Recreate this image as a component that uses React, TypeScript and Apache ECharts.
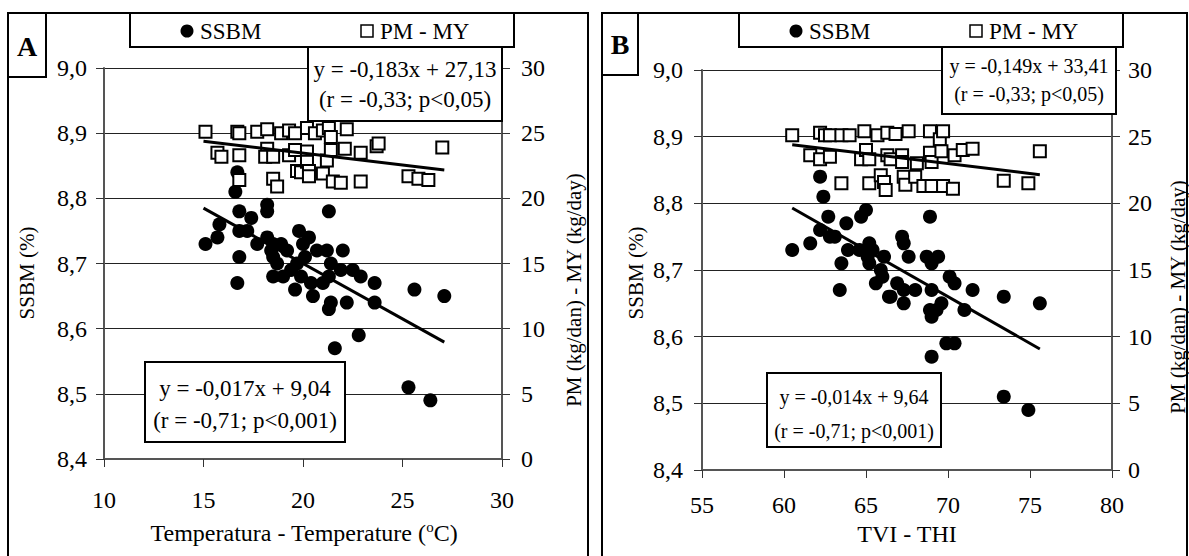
import React, { useEffect, useRef } from "react";
import * as echarts from "echarts";

// Panel A: Temperature (°C)
const tempSSBM: [number, number][] = [
  [15.1, 8.73], [15.7, 8.74], [15.8, 8.76], [16.6, 8.81], [16.7, 8.84], [16.8, 8.78], [16.8, 8.75],
  [16.8, 8.71], [16.7, 8.67], [17.2, 8.75], [17.4, 8.77], [17.7, 8.73], [18.2, 8.79], [18.2, 8.78],
  [18.2, 8.74], [18.4, 8.72], [18.5, 8.73], [18.5, 8.71], [18.5, 8.68], [18.7, 8.70], [18.9, 8.73],
  [19.0, 8.68], [19.2, 8.72], [19.4, 8.69], [19.6, 8.66], [19.7, 8.70], [19.8, 8.75], [19.9, 8.68],
  [20.0, 8.73], [20.1, 8.71], [20.3, 8.74], [20.4, 8.67], [20.5, 8.65], [20.7, 8.72], [21.0, 8.67],
  [21.2, 8.72], [21.3, 8.78], [21.3, 8.68], [21.4, 8.70], [21.3, 8.63], [21.4, 8.64], [21.6, 8.57],
  [21.9, 8.69], [22.0, 8.72], [22.2, 8.64], [22.5, 8.69], [22.8, 8.59], [22.9, 8.68], [23.6, 8.67],
  [23.6, 8.64], [25.6, 8.66], [25.3, 8.51], [26.4, 8.49], [27.1, 8.65],
];
const tempPM: [number, number][] = [
  [15.1, 25.1], [15.7, 23.5], [15.9, 23.2], [16.7, 25.1], [16.8, 25.0], [16.8, 23.3], [16.8, 21.4],
  [17.7, 25.1], [18.2, 25.3], [18.2, 23.8], [18.1, 23.2], [18.5, 23.2], [18.5, 21.5], [18.7, 20.9],
  [18.9, 25.0], [19.3, 25.2], [19.3, 23.3], [19.6, 25.0], [19.6, 23.7], [19.7, 22.1], [19.9, 22.0],
  [20.2, 25.4], [20.2, 23.6], [20.2, 22.8], [20.3, 22.1], [20.3, 21.7], [20.6, 25.0], [21.0, 21.9],
  [21.0, 25.2], [21.2, 22.9], [21.3, 25.4], [21.4, 24.7], [21.4, 23.7], [21.5, 21.3], [21.9, 21.2],
  [22.1, 23.8], [22.2, 25.3], [22.9, 23.5], [22.9, 21.3], [23.7, 24.0], [23.8, 24.2], [25.3, 21.7],
  [25.8, 21.5], [26.3, 21.4], [27.0, 23.9],
];

// Panel B: TVI - THI
const thiSSBM: [number, number][] = [
  [60.5, 8.73], [61.6, 8.74], [62.2, 8.84], [62.4, 8.81], [62.7, 8.78], [62.2, 8.76], [62.8, 8.75],
  [63.1, 8.75], [63.8, 8.77], [64.7, 8.78], [65.0, 8.79], [63.9, 8.73], [63.5, 8.71], [63.4, 8.67],
  [64.6, 8.73], [65.2, 8.74], [65.4, 8.73], [66.1, 8.72], [65.1, 8.72], [65.2, 8.71], [65.6, 8.68],
  [66.4, 8.66], [66.9, 8.68], [67.3, 8.67], [68.0, 8.67], [67.3, 8.65], [65.9, 8.70], [66.0, 8.69],
  [67.2, 8.75], [67.3, 8.74], [67.6, 8.72], [68.9, 8.78], [68.7, 8.72], [69.4, 8.72], [69.0, 8.71],
  [69.0, 8.67], [70.1, 8.69], [70.4, 8.68], [68.9, 8.64], [69.0, 8.63], [69.3, 8.64], [69.6, 8.65],
  [71.5, 8.67], [71.0, 8.64], [73.4, 8.66], [75.6, 8.65], [69.9, 8.59], [70.4, 8.59], [69.0, 8.57],
  [73.4, 8.51], [74.9, 8.49], [66.5, 8.66],
];
const thiPM: [number, number][] = [
  [60.5, 25.1], [61.6, 23.6], [62.2, 25.3], [62.2, 23.3], [62.5, 25.1], [62.8, 25.1], [62.8, 23.5],
  [63.5, 25.1], [63.5, 21.5], [64.0, 25.1], [64.7, 23.3], [64.9, 25.4], [65.0, 24.0], [65.2, 23.3],
  [65.2, 21.5], [65.7, 25.1], [65.9, 22.1], [66.1, 21.6], [66.2, 21.0], [66.3, 25.3], [66.3, 23.6],
  [66.5, 23.3], [66.8, 25.2], [67.2, 23.6], [67.2, 23.1], [67.3, 22.0], [67.4, 21.4], [67.6, 25.4],
  [68.0, 22.0], [68.1, 23.0], [68.5, 21.3], [68.9, 25.4], [68.9, 23.8], [69.0, 23.1], [69.0, 21.3],
  [69.5, 24.8], [69.6, 23.9], [69.7, 25.4], [69.7, 21.3], [70.3, 21.1], [70.4, 23.6], [70.9, 24.0],
  [71.5, 24.1], [73.4, 21.7], [74.9, 21.5], [75.6, 23.9],
];

// Regression lines: [slope, intercept, xStart, xEnd]
const regTempSSBM = [-0.017, 9.04, 15.0, 27.1];
const regTempPM = [-0.183, 27.13, 15.0, 27.1];
const regThiSSBM = [-0.014, 9.64, 60.5, 75.6];
const regThiPM = [-0.149, 33.41, 60.5, 75.6];

const eqTempPM = ["y = -0,183x + 27,13", "(r = -0,33; p<0,05)"];
const eqTempSSBM = ["y = -0,017x + 9,04", "(r = -0,71; p<0,001)"];
const eqThiPM = ["y = -0,149x + 33,41", "(r = -0,33; p<0,05)"];
const eqThiSSBM = ["y = -0,014x + 9,64", "(r = -0,71; p<0,001)"];

const FONT = '"Liberation Serif", "Times New Roman", serif';
const TICK = 24;

function regLine(r: number[]): [number, number][] {
  const [a, b, x0, x1] = r;
  return [
    [x0, a * x0 + b],
    [x1, a * x1 + b],
  ];
}

const commaFmt = (v: number) => v.toFixed(1).replace(".", ",");

function text(x: number, y: number, t: string, size: number, extra: any = {}) {
  return {
    type: "text",
    x,
    y,
    z: 110,
    rotation: extra.rotation || 0,
    style: {
      text: t,
      fontSize: size,
      fontFamily: FONT,
      fontWeight: extra.bold ? "bold" : "normal",
      fill: "#000",
      align: extra.align || "center",
      verticalAlign: "middle",
      ...(extra.style || {}),
    },
  };
}

function box(x: number, y: number, w: number, h: number, fill = "#fff") {
  return {
    type: "rect",
    z: 100,
    shape: { x, y, width: w, height: h },
    style: { fill, stroke: "#000", lineWidth: 2 },
  };
}

function legend(x0: number) {
  return [
    box(x0, 13, 384, 34),
    {
      type: "circle",
      z: 110,
      shape: { cx: x0 + 57, cy: 31, r: 6.5 },
      style: { fill: "#000" },
    },
    text(x0 + 70, 31, "SSBM", 23, { align: "left" }),
    {
      type: "rect",
      z: 110,
      shape: { x: x0 + 231, y: 25, width: 12, height: 12 },
      style: { fill: "#fff", stroke: "#000", lineWidth: 1.5 },
    },
    text(x0 + 250, 31, "PM - MY", 23, { align: "left" }),
  ];
}

function axisCommon(extra: any) {
  return {
    type: "value",
    axisLine: { show: true, lineStyle: { color: "#555", width: 2 } },
    axisTick: { show: true, inside: false, length: 8, lineStyle: { color: "#333", width: 1 } },
    splitLine: { show: false },
    ...extra,
  };
}

const lbl = (margin: number, formatter?: any) => ({
  color: "#000",
  fontFamily: FONT,
  fontSize: TICK,
  margin,
  ...(formatter ? { formatter } : {}),
});

export default function App() {
  const ref = useRef<HTMLDivElement>(null);

  useEffect(() => {
    if (!ref.current) return;
    const chart = echarts.init(ref.current, null, { renderer: "svg" });

    const grid = [
      { left: 104, top: 68, width: 398, height: 391 },
      { left: 702, top: 70, width: 410, height: 400 },
    ];

    const xAxis = [
      axisCommon({ gridIndex: 0, min: 10, max: 30, interval: 5, axisLabel: lbl(29) }),
      axisCommon({ gridIndex: 1, min: 55, max: 80, interval: 5, axisLabel: lbl(23) }),
    ];

    const split = { show: true, lineStyle: { color: "#222", width: 1 } };
    const yAxis = [
      axisCommon({
        gridIndex: 0, position: "left", min: 8.4, max: 9.0, interval: 0.1,
        splitLine: split, axisLabel: lbl(17, commaFmt),
      }),
      axisCommon({ gridIndex: 0, position: "right", min: 0, max: 30, interval: 5, axisLabel: lbl(19) }),
      axisCommon({
        gridIndex: 1, position: "left", min: 8.4, max: 9.0, interval: 0.1,
        splitLine: split, axisLabel: lbl(19, commaFmt),
      }),
      axisCommon({ gridIndex: 1, position: "right", min: 0, max: 30, interval: 5, axisLabel: lbl(16) }),
    ];

    const circle = (name: string, data: any, xi: number, yi: number) => ({
      name, type: "scatter", xAxisIndex: xi, yAxisIndex: yi, data,
      symbol: "circle", symbolSize: 14,
      itemStyle: { color: "#000", opacity: 1 }, z: 2,
    });
    const square = (name: string, data: any, xi: number, yi: number) => ({
      name, type: "scatter", xAxisIndex: xi, yAxisIndex: yi, data,
      symbol: "rect", symbolSize: 12,
      itemStyle: { color: "#fff", borderColor: "#000", borderWidth: 2, opacity: 1 }, z: 3,
    });
    const trend = (name: string, r: number[], xi: number, yi: number) => ({
      name, type: "line", xAxisIndex: xi, yAxisIndex: yi, data: regLine(r),
      symbol: "none", lineStyle: { color: "#000", width: 3 }, z: 4,
    });

    const BX = 602;
    const graphic: any[] = [
      { type: "rect", z: 90, shape: { x: 8, y: 13, width: 580, height: 600 }, style: { fill: "none", stroke: "#000", lineWidth: 2 } },
      { type: "rect", z: 90, shape: { x: BX, y: 13, width: 585, height: 600 }, style: { fill: "none", stroke: "#000", lineWidth: 2 } },
      box(8, 13, 38, 64),
      text(27, 46, "A", 28, { bold: true }),
      box(BX, 13, 36, 62),
      text(BX + 18, 44, "B", 28, { bold: true }),
      ...legend(130),
      ...legend(739),
      // equation boxes A
      box(308, 47, 194, 74),
      text(405, 69, eqTempPM[0], 23),
      text(405, 99, eqTempPM[1], 23),
      box(145, 362, 200, 80),
      text(245, 388, eqTempSSBM[0], 23),
      text(245, 420, eqTempSSBM[1], 23),
      // equation boxes B
      box(942, 47, 174, 67),
      text(1029, 66, eqThiPM[0], 20),
      text(1029, 94, eqThiPM[1], 20),
      box(767, 373, 174, 74),
      text(854, 397, eqThiSSBM[0], 20),
      text(854, 431, eqThiSSBM[1], 20),
      // axis names A
      text(27, 273, "SSBM (%)", 21, { rotation: Math.PI / 2 }),
      text(574, 290, "PM (kg/dan) - MY (kg/day)", 21, { rotation: Math.PI / 2 }),
      text(304, 533, "Temperatura - Temperature ({sup|o}C)", 24, {
        style: {
          lineHeight: 27,
          rich: { sup: { fontSize: 15, fontFamily: FONT, verticalAlign: "top", lineHeight: 15 } },
        },
      }),
      // axis names B
      text(636, 273, "SSBM (%)", 21, { rotation: Math.PI / 2 }),
      text(1178, 297, "PM (kg/dan) - MY (kg/day)", 21, { rotation: Math.PI / 2 }),
      text(907, 534, "TVI - THI", 24),
    ];

    chart.setOption({
      animation: false,
      backgroundColor: "#fff",
      grid,
      xAxis,
      yAxis,
      series: [
        circle("SSBM", tempSSBM, 0, 0),
        square("PM - MY", tempPM, 0, 1),
        trend("SSBM trend", regTempSSBM, 0, 0),
        trend("PM trend", regTempPM, 0, 1),
        circle("SSBM ", thiSSBM, 1, 2),
        square("PM - MY ", thiPM, 1, 3),
        trend("SSBM trend ", regThiSSBM, 1, 2),
        trend("PM trend ", regThiPM, 1, 3),
      ],
      graphic,
    });

    return () => chart.dispose();
  }, []);

  return (
    <div
      ref={ref}
      style={{ position: "absolute", left: 0, top: 0, width: 1189, height: 556, background: "#fff" }}
    />
  );
}
